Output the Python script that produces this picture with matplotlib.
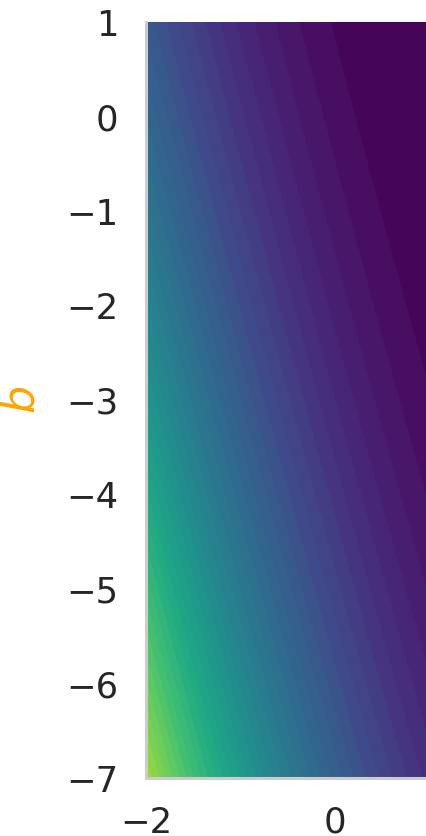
import numpy as np
import matplotlib.pyplot as plt

# data for the linear model y = w*x + b
x_data = np.array([2.1, 2.9, 3.6, 4.3, 5.1])
y_data = np.array([2.6, 3.2, 3.8, 4.2, 4.9])

w_range = (-2, 6)
b_range = (-7, 1)
n_levels = 43

w = np.linspace(w_range[0], w_range[1], 400)
b = np.linspace(b_range[0], b_range[1], 400)
W, B = np.meshgrid(w, b)
# mean squared error of the fit for every (w, b)
loss = ((W[..., None] * x_data + B[..., None] - y_data) ** 2).mean(axis=-1)

fig = plt.figure(figsize=(4.26, 8.36), dpi=100)
# the axes run past the right edge of the figure, only the left part shows
ax = fig.add_axes([146 / 426, 58 / 836, 755 / 426, 756 / 836])
ax.contourf(W, B, loss, levels=np.linspace(loss.min(), loss.max(), n_levels),
            cmap='viridis')

ax.set_xlim(w_range)
ax.set_ylim(b_range)
ax.set_xticks([-2, 0, 2, 4, 6])
ax.set_yticks(np.arange(-7, 2))
ax.tick_params(length=0, pad=20, labelsize=25.5, labelcolor='#262626')

for side in ['top', 'right']:
    ax.spines[side].set_visible(False)
for side in ['left', 'bottom']:
    ax.spines[side].set_color('#cccccc')
    ax.spines[side].set_linewidth(2.2)

ax.set_ylabel('$b$', color='orange', fontsize=32, labelpad=16)

plt.savefig('out.png', dpi=100)
